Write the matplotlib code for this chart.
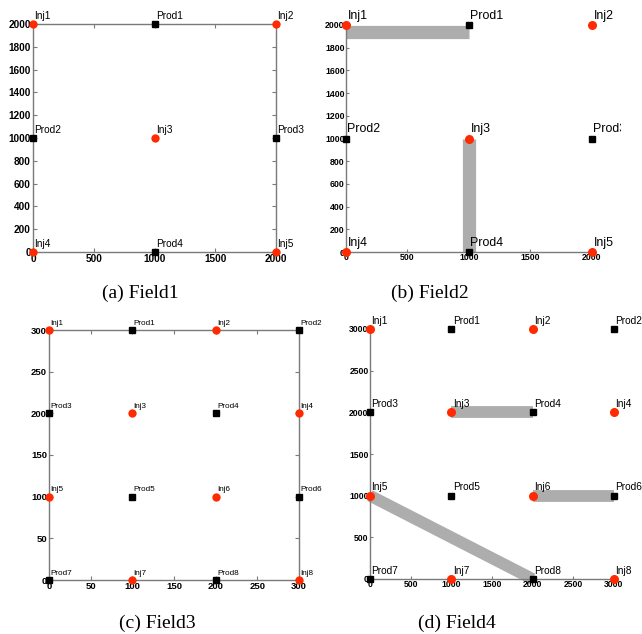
import matplotlib
matplotlib.use("Agg")
import matplotlib.pyplot as plt
from matplotlib.transforms import Bbox, TransformedBbox, offset_copy

# ===============================
# DATA
# ===============================

# Field1 / Field2 share the same 5-spot layout
f12_inj_names = ["Inj1", "Inj2", "Inj3", "Inj4", "Inj5"]
f12_inj_x = [0, 2000, 1000, 0, 2000]
f12_inj_y = [2000, 2000, 1000, 0, 0]
f12_prod_names = ["Prod1", "Prod2", "Prod3", "Prod4"]
f12_prod_x = [1000, 0, 2000, 1000]
f12_prod_y = [2000, 1000, 1000, 0]
f12_ticks_x = [0, 500, 1000, 1500, 2000]
f12_ticks_y = [0, 200, 400, 600, 800, 1000, 1200, 1400, 1600, 1800, 2000]

# Field2 connections (injector -> producer)
f2_links = [("Inj1", "Prod1"), ("Inj3", "Prod4")]

# Field3 grid
f3_inj_names = ["Inj1", "Inj2", "Inj3", "Inj4", "Inj5", "Inj6", "Inj7", "Inj8"]
f3_inj_x = [0, 200, 100, 300, 0, 200, 100, 300]
f3_inj_y = [300, 300, 200, 200, 100, 100, 0, 0]
f3_prod_names = ["Prod1", "Prod2", "Prod3", "Prod4", "Prod5", "Prod6", "Prod7", "Prod8"]
f3_prod_x = [100, 300, 0, 200, 100, 300, 0, 200]
f3_prod_y = [300, 300, 200, 200, 100, 100, 0, 0]
f3_ticks = [0, 50, 100, 150, 200, 250, 300]

# Field4 grid (same pattern, 10x spacing)
f4_inj_names = f3_inj_names
f4_inj_x = [0, 2000, 1000, 3000, 0, 2000, 1000, 3000]
f4_inj_y = [3000, 3000, 2000, 2000, 1000, 1000, 0, 0]
f4_prod_names = f3_prod_names
f4_prod_x = [1000, 3000, 0, 2000, 1000, 3000, 0, 2000]
f4_prod_y = [3000, 3000, 2000, 2000, 1000, 1000, 0, 0]
f4_ticks = [0, 500, 1000, 1500, 2000, 2500, 3000]
f4_links = [("Inj3", "Prod4"), ("Inj6", "Prod6"), ("Inj5", "Prod8")]

captions = ["(a) Field1", "(b) Field2", "(c) Field3", "(d) Field4"]

# ===============================
# STYLE
# ===============================

SANS = "Liberation Sans"
SERIF = "Liberation Serif"
RED = "#ff2a00"
BAND = "#adadad"
SPINE = "#7a7a7a"

fig = plt.figure(figsize=(6.42, 6.34), dpi=100)


def px_axes(l, r, t, b):
    W, H = 642, 634
    return fig.add_axes([l / W, 1 - b / H, (r - l) / W, (b - t) / H])


def draw_field(ax, inj, prod, ticks_x, ticks_y, links, box, tick_fs, lab_fs,
               band_lw=9, band_shift=None, ms=6):
    in_n, in_x, in_y = inj
    pr_n, pr_x, pr_y = prod
    pos = {n: (x, y) for n, x, y in zip(in_n, in_x, in_y)}
    pos.update({n: (x, y) for n, x, y in zip(pr_n, pr_x, pr_y)})

    for i, (a, b) in enumerate(links):
        tr = ax.transData
        if band_shift is not None and band_shift[i] != 0:
            tr = offset_copy(ax.transData, fig=fig, y=band_shift[i], units="points")
        ax.plot([pos[a][0], pos[b][0]], [pos[a][1], pos[b][1]],
                color=BAND, linewidth=band_lw, solid_capstyle="butt",
                transform=tr, zorder=1, clip_on=False)

    ax.plot(pr_x, pr_y, "s", color="black", markersize=ms - 1.5, zorder=3, clip_on=False)
    ax.plot(in_x, in_y, "o", color=RED, markersize=ms, markeredgewidth=0,
            zorder=4, clip_on=False)

    texts = []
    for n in in_n + pr_n:
        t = ax.annotate(n, pos[n], xytext=(1, 2.5), textcoords="offset points",
                        ha="left", va="bottom", fontsize=lab_fs, family=SANS,
                        annotation_clip=False, zorder=5)
        texts.append(t)

    ax.set_xlim(ticks_x[0], ticks_x[-1])
    ax.set_ylim(ticks_y[0], ticks_y[-1])
    ax.set_xticks(ticks_x)
    ax.set_yticks(ticks_y)
    for lab in ax.get_xticklabels() + ax.get_yticklabels():
        lab.set_family(SANS)
        lab.set_fontsize(tick_fs)
        lab.set_fontweight("bold")

    for s in ax.spines.values():
        s.set_color(SPINE)
        s.set_linewidth(1.0)
    if not box:
        ax.spines["top"].set_visible(False)
        ax.spines["right"].set_visible(False)
        ax.tick_params(direction="in", length=2, pad=1, color=SPINE,
                       top=False, right=False)
    else:
        ax.tick_params(direction="in", length=3, pad=1.5, color=SPINE,
                       top=True, right=True)
    ax.set_facecolor("none")
    return texts


# (a) Field1
ax1 = px_axes(33, 276, 24, 252)
draw_field(ax1, (f12_inj_names, f12_inj_x, f12_inj_y),
           (f12_prod_names, f12_prod_x, f12_prod_y),
           f12_ticks_x, f12_ticks_y, [], True, 7.2, 7.3)

# (b) Field2
ax2 = px_axes(346, 592, 25, 252)
t2 = draw_field(ax2, (f12_inj_names, f12_inj_x, f12_inj_y),
                (f12_prod_names, f12_prod_x, f12_prod_y),
                f12_ticks_x, f12_ticks_y, f2_links, False, 6.3, 8.9,
                band_lw=9.5, band_shift=[-4.8, 0], ms=6.5)
clip = TransformedBbox(Bbox([[0, 0], [621 / 642, 1]]), fig.transFigure)
for t in t2:
    t.set_clip_box(clip)
    t.set_clip_on(True)

# (c) Field3
ax3 = px_axes(49, 299, 330, 580)
draw_field(ax3, (f3_inj_names, f3_inj_x, f3_inj_y),
           (f3_prod_names, f3_prod_x, f3_prod_y),
           f3_ticks, f3_ticks, [], True, 6.8, 5.9)

# (d) Field4
ax4 = px_axes(370, 614, 329, 579)
draw_field(ax4, (f4_inj_names, f4_inj_x, f4_inj_y),
           (f4_prod_names, f4_prod_x, f4_prod_y),
           f4_ticks, f4_ticks, f4_links, False, 6.2, 7.3, band_lw=8.5, ms=6.5)

# captions
cap_pos = [(140, 293), (430, 293), (157, 623), (457, 623)]
for (cx, cy), c in zip(cap_pos, captions):
    fig.text(cx / 642, 1 - cy / 634, c, ha="center", va="center",
             fontsize=14, family=SERIF)

fig.savefig("out.png", dpi=100)
